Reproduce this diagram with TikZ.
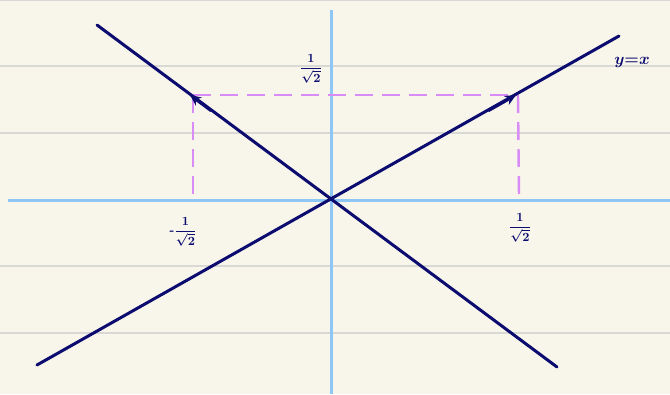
\documentclass[tikz,border=0pt]{standalone}
\usepackage{amsmath,amssymb,bm}
\usetikzlibrary{arrows.meta,calc}
\definecolor{paper}{HTML}{F8F6EA}
\definecolor{rule}{HTML}{D8D8D4}
\definecolor{axisblue}{HTML}{8EC6F6}
\definecolor{navy}{HTML}{0B0B70}
\definecolor{lilac}{HTML}{D98CF6}
\begin{document}
\begin{tikzpicture}[x=1pt,y=-1pt,
  ruleline/.style={rule,line width=1.5pt},
  axisline/.style={axisblue,line width=3pt},
  graphline/.style={navy,line width=3pt,line cap=round},
  guide/.style={lilac,line width=2.4pt,dash pattern=on 18pt off 9pt},
  lab/.style={navy,font=\bfseries,inner sep=0pt,scale=1.25}]
\fill[paper] (0,0) rectangle (670,394);
\useasboundingbox (0,0) rectangle (670,394);
% ruled lines
\foreach \yy in {0.5,66,133,266,333} \draw[ruleline] (0,\yy) -- (670,\yy);
% axes
\coordinate (O) at (331,200);
\coordinate (xl) at (8,200);
\coordinate (xr) at (670,200);
\coordinate (yt) at (331,10);
\coordinate (yb) at (331,394);
\draw[axisline] (xl) -- (xr);
\draw[axisline] (yt) -- (yb);
% guide points
\coordinate (P1) at (190,95);
\coordinate (P2) at (516,95);
\coordinate (G1) at (193,95);
\coordinate (G2) at (518,95);
\coordinate (F1) at (193,200);
\coordinate (F2) at (519,197);
\draw[guide] (G1) -- (G2);
\draw[guide] (G1) -- (F1);
\draw[guide] (G2) -- (F2);
% graph lines
\coordinate (A1) at (97,25);
\coordinate (A2) at (557,367);
\coordinate (B1) at (37,365);
\coordinate (B2) at (619,36);
\draw[graphline] (A1) -- (A2);
\draw[graphline] (B1) -- (B2);
\draw[navy,line width=3pt,-{Stealth[length=11pt,width=10pt]}] ($(O)!0.85!(P1)$) -- (P1);
\draw[navy,line width=3pt,-{Stealth[length=11pt,width=10pt]}] ($(O)!0.85!(P2)$) -- (P2);
% labels
\node[lab] (t) at (311,69) {$\bm{\dfrac{1}{\sqrt{2}}}$};
\node[lab] (l) at (183,232) {$\bm{\text{-}\dfrac{1}{\sqrt{2}}}$};
\node[lab] (r) at (520,228) {$\bm{\dfrac{1}{\sqrt{2}}}$};
\node[lab,scale=1.3] (yx) at (632,62) {$\bm{y{=}x}$};
\end{tikzpicture}
\end{document}
